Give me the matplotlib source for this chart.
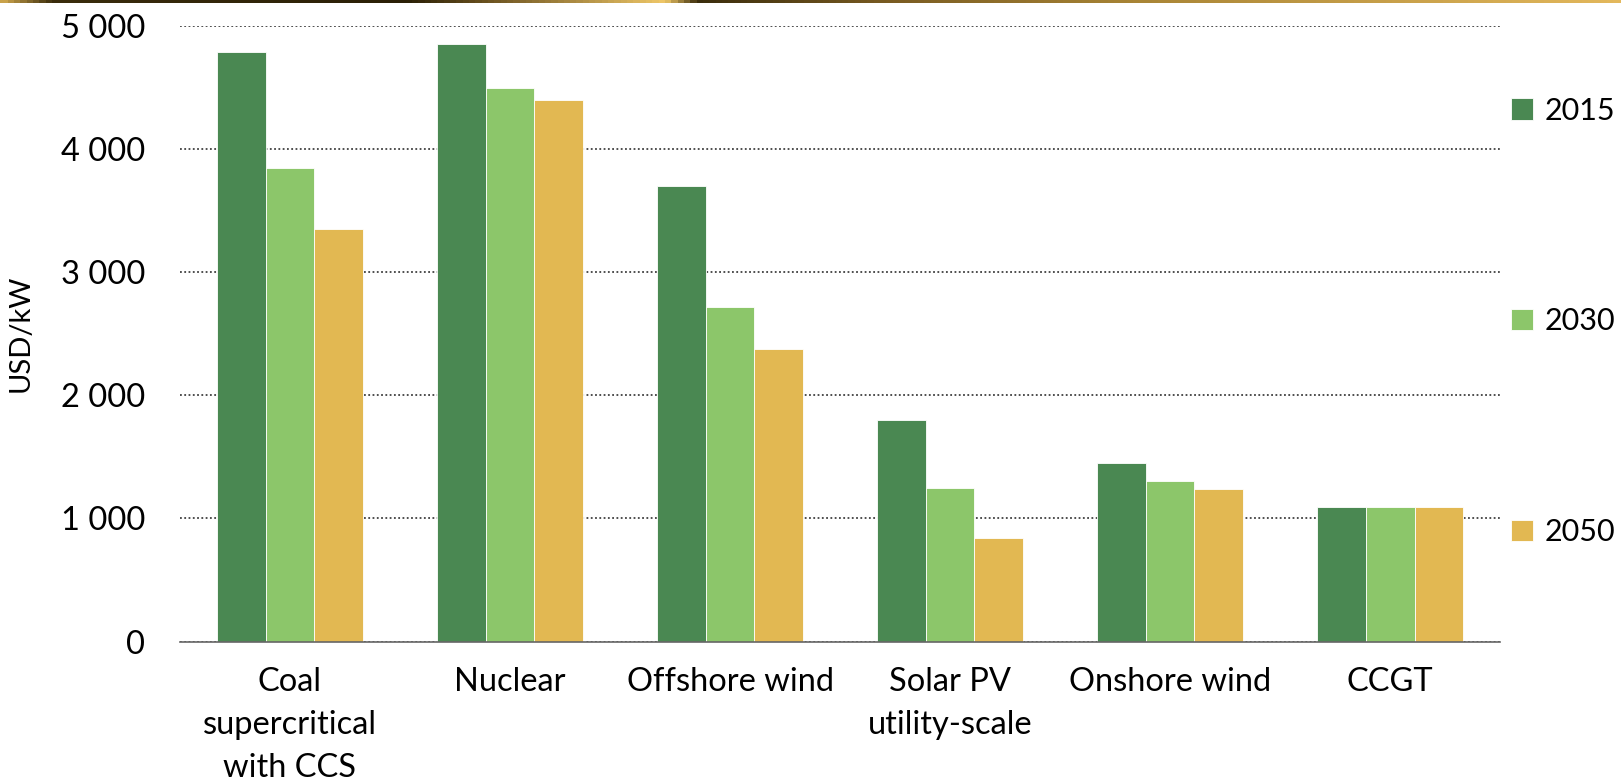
import numpy as np
import matplotlib
matplotlib.use("Agg")
import matplotlib.pyplot as plt
from matplotlib.colors import LinearSegmentedColormap
from matplotlib.ticker import FuncFormatter

plt.rcParams['font.family'] = ['Lato', 'DejaVu Sans']

categories = ["Coal\nsupercritical\nwith CCS", "Nuclear", "Offshore wind",
              "Solar PV\nutility-scale", "Onshore wind", "CCGT"]
years = ["2015", "2030", "2050"]
cost_2015 = [4790, 4850, 3700, 1800, 1450, 1090]
cost_2030 = [3850, 4500, 2720, 1245, 1300, 1090]
cost_2050 = [3350, 4400, 2380, 840, 1240, 1090]
colors = ["#4A8852", "#8CC66A", "#E2B852"]

fig = plt.figure(figsize=(16.21, 7.83), dpi=100)
ax = fig.add_axes([0.111, 0.1807, 0.8145, 0.7861])

x = np.arange(len(categories))
w = 0.221
for i, (vals, col, yr) in enumerate(zip([cost_2015, cost_2030, cost_2050], colors, years)):
    ax.bar(x + (i - 1) * w, vals, w, color=col, edgecolor="white",
           linewidth=0.6, label=yr, zorder=3)

ax.set_xlim(-0.5, len(categories) - 0.5)
ax.set_ylim(0, 5000)
ax.set_yticks(np.arange(0, 5001, 1000))
ax.yaxis.set_major_formatter(FuncFormatter(lambda v, p: f"{int(v):,}".replace(",", " ")))
ax.set_xticks(x)
ax.set_xticklabels(categories, linespacing=1.55)
ax.tick_params(axis="both", length=0, labelsize=23.5, labelcolor="black")
ax.tick_params(axis="y", pad=25)
ax.tick_params(axis="x", pad=18)

# dotted gridlines, solid baseline
ax.grid(axis="y", color="#404040", linewidth=1.3, linestyle=(0, (1, 1.37)), zorder=0)
ax.grid(axis="x", visible=False)
for s in ["top", "right", "left"]:
    ax.spines[s].set_visible(False)
ax.spines["bottom"].set_color("#666666")
ax.spines["bottom"].set_linewidth(1.2)
ax.spines["bottom"].set_zorder(4)

ax.set_ylabel("USD/kW", fontsize=21)
ax.yaxis.set_label_coords(-0.111, 0.5)

ax.legend(loc="upper left", bbox_to_anchor=(0.999, 0.905), frameon=False,
          fontsize=22, handlelength=0.7, handleheight=0.7, handletextpad=0.4,
          labelspacing=5.98, borderaxespad=0)

# thin gold rule along the top edge
band = fig.add_axes([0, 1 - 3 / 783, 1, 3 / 783])
gold = LinearSegmentedColormap.from_list("gold", [
    (0.0, "#c9a24a"), (0.03, "#3a2c0c"), (0.25, "#2a1f06"), (0.30, "#6b5220"),
    (0.41, "#f0c868"), (0.43, "#3a2c0c"), (0.55, "#7a5c22"), (0.70, "#a88435"),
    (1.0, "#e3b85c")])
band.imshow(np.linspace(0, 1, 512)[None, :], aspect="auto", cmap=gold)
band.axis("off")

fig.savefig("out.png", dpi=100)
